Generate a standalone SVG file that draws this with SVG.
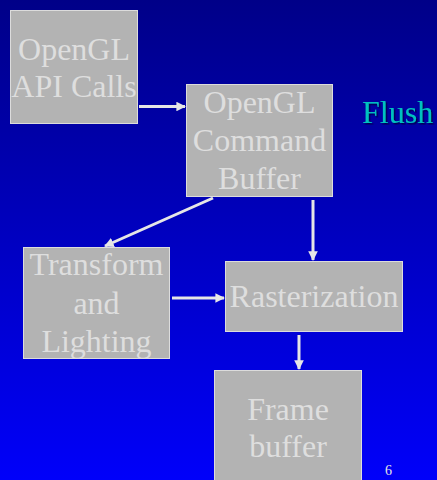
<svg xmlns="http://www.w3.org/2000/svg" width="437" height="480" viewBox="0 0 437 480">
  <defs>
    <linearGradient id="bg" x1="0" y1="0" x2="0" y2="1">
      <stop offset="0" stop-color="#000088"/>
      <stop offset="1" stop-color="#0000fa"/>
    </linearGradient>
    <marker id="head" viewBox="0 0 10 10" refX="9" refY="5" markerWidth="3.2" markerHeight="3.2" orient="auto" markerUnits="strokeWidth">
      <path d="M0,0 L10,5 L0,10 z" fill="#e6e6e6"/>
    </marker>
    <filter id="shadow" x="-10%" y="-10%" width="130%" height="130%">
      <feDropShadow dx="1.5" dy="1.5" stdDeviation="0.3" flood-color="#00004a" flood-opacity="0.9"/>
    </filter>
  </defs>
  <style>
    .box { fill: #b3b3b3; stroke: #dcdcdc; stroke-width: 1; }
    .lbl { font-family: "Liberation Serif", "Times New Roman", serif; font-size: 32px; fill: #dedede; text-anchor: middle; }
    .wire { stroke: #e6e6e6; stroke-width: 3; fill: none; marker-end: url(#head); }
  </style>

  <rect x="0" y="0" width="437" height="480" fill="url(#bg)"/>

  <g id="connectors">
    <line class="wire" x1="139" y1="106.5" x2="185" y2="106.5"/>
    <line class="wire" x1="213" y1="198" x2="105" y2="246"/>
    <line class="wire" x1="313" y1="200" x2="313" y2="260"/>
    <line class="wire" x1="172" y1="298" x2="224" y2="298"/>
    <line class="wire" x1="299" y1="335" x2="299" y2="369"/>
  </g>

  <g id="api-calls">
    <rect class="box" x="10.5" y="10.5" width="127" height="113"/>
    <text class="lbl" x="74" y="60">OpenGL</text>
    <text class="lbl" x="74" y="97">API Calls</text>
  </g>

  <g id="command-buffer">
    <rect class="box" x="186.5" y="84.5" width="146" height="112"/>
    <text class="lbl" x="259.5" y="113">OpenGL</text>
    <text class="lbl" x="259.5" y="151">Command</text>
    <text class="lbl" x="259.5" y="189">Buffer</text>
  </g>

  <g id="transform-lighting">
    <rect class="box" x="23.5" y="247.5" width="146" height="111"/>
    <text class="lbl" x="96.5" y="275">Transform</text>
    <text class="lbl" x="96.5" y="314">and</text>
    <text class="lbl" x="96.5" y="352">Lighting</text>
  </g>

  <g id="rasterization">
    <rect class="box" x="225.5" y="261.5" width="177" height="70"/>
    <text class="lbl" x="314" y="307">Rasterization</text>
  </g>

  <g id="frame-buffer">
    <rect class="box" x="214.5" y="370.5" width="147" height="115"/>
    <text class="lbl" x="288" y="420">Frame</text>
    <text class="lbl" x="288" y="457">buffer</text>
  </g>

  <text x="362" y="123" font-family="Liberation Serif, Times New Roman, serif" font-size="32" fill="#00c0c0" filter="url(#shadow)">Flush</text>
  <text x="385" y="475" font-family="Liberation Serif, Times New Roman, serif" font-size="14" fill="#e6e6e6">6</text>
</svg>
